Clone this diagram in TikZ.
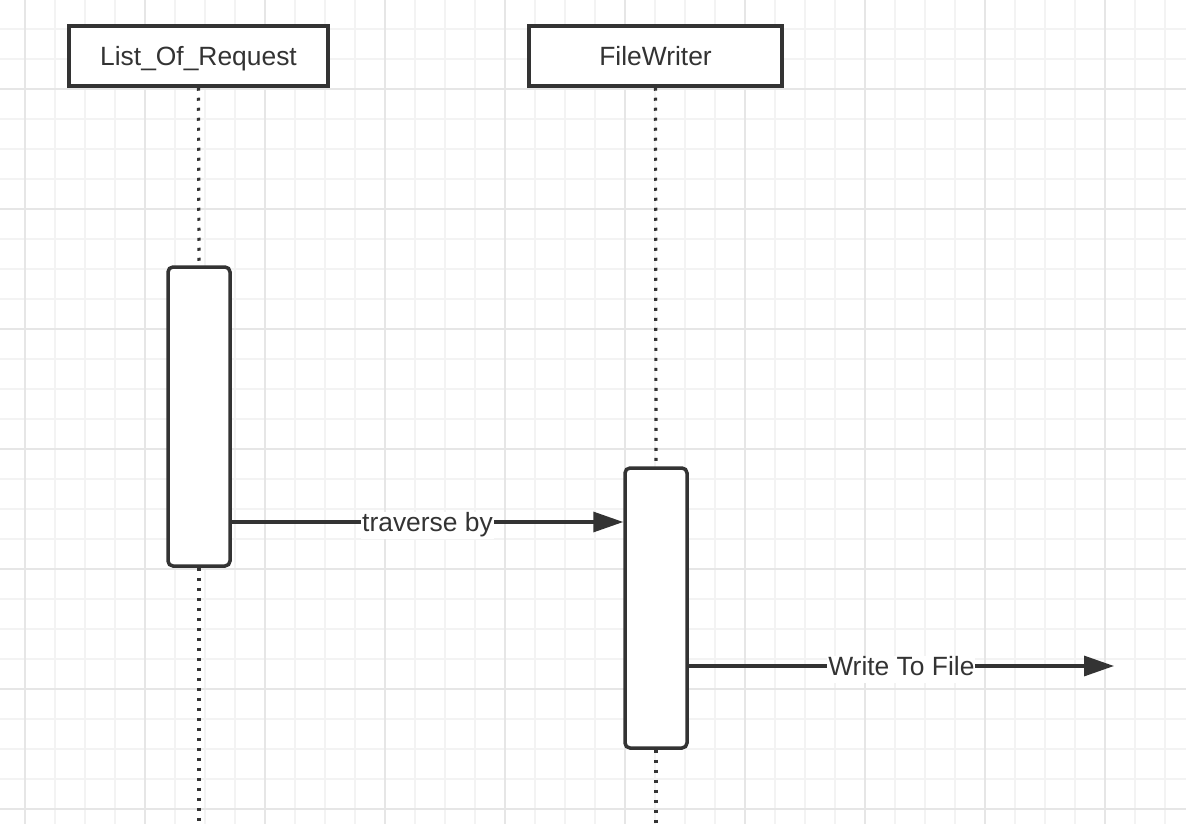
\documentclass[tikz,border=0pt]{standalone}
\usepackage{fontspec}
\setmainfont{Liberation Sans}
\usetikzlibrary{arrows.meta}
\definecolor{ink}{HTML}{333333}
\definecolor{gridminor}{HTML}{F3F3F3}
\definecolor{gridmajor}{HTML}{E6E6E6}
\begin{document}
\begin{tikzpicture}[x=1pt,y=-1pt,
  minorline/.style={draw=gridminor,line width=1.6pt},
  majorline/.style={draw=gridmajor,line width=1.6pt},
  lifebox/.style={draw=ink,line width=3.5pt,fill=white,text=ink,minimum height=60pt,inner sep=0pt,text height=19pt,text depth=0pt,font=\fontsize{26.4}{30}\selectfont},
  actbox/.style={draw=ink,line width=3.5pt,fill=white,rounded corners=5pt,minimum width=62pt,inner sep=0pt},
  lifeline/.style={draw=ink,line width=3.2pt,dash pattern=on 3pt off 7pt},
  msg/.style={draw=ink,line width=3.2pt,-{Triangle[length=30pt,width=20pt]}},
  msglabel/.style={fill=white,text=ink,inner sep=1pt,text height=19pt,text depth=6pt,yshift=-3pt,font=\fontsize{26.4}{30}\selectfont}
]
\useasboundingbox (0,0) rectangle (1186,824);
\fill[white] (0,0) rectangle (1186,824);
% grid
\foreach \x in {25,55,...,1165} \draw[minorline] (\x,0) -- (\x,824);
\foreach \y in {29,59,...,809} \draw[minorline] (0,\y) -- (1186,\y);
\foreach \x in {25,145,...,1105} \draw[majorline] (\x,0) -- (\x,824);
\foreach \y in {89,209,...,809} \draw[majorline] (0,\y) -- (1186,\y);

% lifeline heads
\node[lifebox,minimum width=259pt] (lor) at (198.5,56) {List\_Of\_Request};
\node[lifebox,minimum width=253pt] (fw) at (655.5,56) {FileWriter};

% activations
\node[actbox,minimum height=299pt] (a1) at (199,416.5) {};
\node[actbox,minimum height=280pt] (a2) at (656,608) {};

\coordinate (lorend) at (199,824);
\coordinate (fwend) at (656,824);
\coordinate (out) at (1114,666);

% lifelines
\draw[lifeline] (lor.south) -- (a1.north);
\draw[lifeline] (a1.south) -- (lorend);
\draw[lifeline] (fw.south) -- (a2.north);
\draw[lifeline] (a2.south) -- (fwend);

% messages
\draw[msg] ([yshift=-105.5pt]a1.east) -- node[msglabel] {traverse by} ([yshift=86pt]a2.west);
\draw[msg] ([yshift=-58pt]a2.east) -- node[msglabel] {Write To File} (out);
\end{tikzpicture}
\end{document}
